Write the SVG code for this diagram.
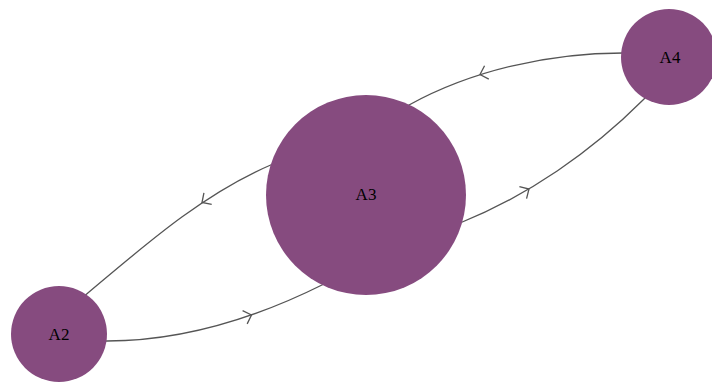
<svg xmlns="http://www.w3.org/2000/svg" width="712" height="382" viewBox="0 0 712 382">
<defs>
<style>
.link{fill:none;stroke:#555;stroke-width:1.3}
.chev{fill:none;stroke:#555;stroke-width:1.3}
.node circle{fill:#864B7F}
.node text{font-family:"Liberation Serif","Times New Roman",serif;font-size:17px;fill:#000;text-anchor:middle;dominant-baseline:central}
</style>
<path id="chevron" class="chev" d="M-7,-7 L0,0 L-7,7"/>
</defs>
<rect width="712" height="382" fill="#fff"/>
<g id="connectors">
<path class="link" d="M274,163.6 L270.7,165 C201.8,194.6 144.2,245.8 86.7,294 L84,296.3"/>
<path class="link" d="M103,341 L107,341 C182,341 257,317.5 324,284 L327,282.5"/>
<path class="link" d="M457,224.2 L460,223 C527.7,195.9 591.4,151.6 643,100 L645,98"/>
<path class="link" d="M627,53 L623,53 C550,53 473,69.8 409,105 L406,106.6"/>
<use href="#chevron" transform="translate(202,202.5) rotate(146.2)"/>
<use href="#chevron" transform="translate(251.5,315) rotate(-19.1)"/>
<use href="#chevron" transform="translate(529,189) rotate(-30.7)"/>
<use href="#chevron" transform="translate(480,74.5) rotate(162.4)"/>
</g>
<g id="A2" class="node"><circle cx="59" cy="334" r="48"/><text x="59" y="334">A2</text></g>
<g id="A3" class="node"><circle cx="366" cy="195" r="100"/><text x="366" y="194">A3</text></g>
<g id="A4" class="node"><circle cx="669" cy="57" r="48"/><text x="670" y="57">A4</text></g>
</svg>
